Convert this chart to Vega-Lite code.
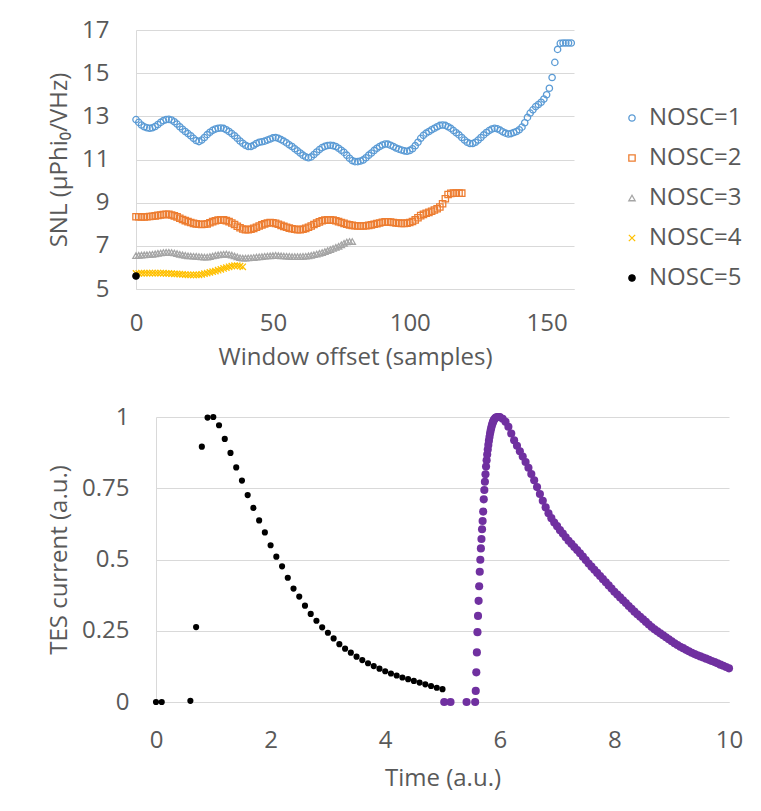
{
  "$schema": "https://vega.github.io/schema/vega-lite/v6.json",
  "background": "white",
  "padding": {"left": 46, "top": 18, "right": 0, "bottom": 12},
  "spacing": 36,
  "config": {
    "font": "Open Sans",
    "view": {"stroke": null},
    "axis": {
      "labelFont": "Open Sans", "titleFont": "Open Sans",
      "labelFontSize": 24, "titleFontSize": 24,
      "labelColor": "#595959", "titleColor": "#595959",
      "titleFontWeight": "normal", "ticks": false, "labelFlush": false,
      "domainColor": "#d9d9d9", "gridColor": "#d9d9d9", "gridWidth": 1
    }
  },
  "resolve": {"scale": {"x": "independent", "y": "independent"}},
  "vconcat": [
    {
      "width": 418,
      "height": 259,
      "data": {"values": [
        {"nosc":"NOSC=1","offset":0,"snl":12.85},{"nosc":"NOSC=1","offset":1,"snl":12.72},{"nosc":"NOSC=1","offset":2,"snl":12.6},{"nosc":"NOSC=1","offset":3,"snl":12.52},{"nosc":"NOSC=1","offset":4,"snl":12.47},{"nosc":"NOSC=1","offset":5,"snl":12.45},{"nosc":"NOSC=1","offset":6,"snl":12.47},{"nosc":"NOSC=1","offset":7,"snl":12.53},{"nosc":"NOSC=1","offset":8,"snl":12.62},{"nosc":"NOSC=1","offset":9,"snl":12.72},
        {"nosc":"NOSC=1","offset":10,"snl":12.8},{"nosc":"NOSC=1","offset":11,"snl":12.85},{"nosc":"NOSC=1","offset":12,"snl":12.86},{"nosc":"NOSC=1","offset":13,"snl":12.83},{"nosc":"NOSC=1","offset":14,"snl":12.75},{"nosc":"NOSC=1","offset":15,"snl":12.64},{"nosc":"NOSC=1","offset":16,"snl":12.52},{"nosc":"NOSC=1","offset":17,"snl":12.4},{"nosc":"NOSC=1","offset":18,"snl":12.3},{"nosc":"NOSC=1","offset":19,"snl":12.2},
        {"nosc":"NOSC=1","offset":20,"snl":12.1},{"nosc":"NOSC=1","offset":21,"snl":11.98},{"nosc":"NOSC=1","offset":22,"snl":11.88},{"nosc":"NOSC=1","offset":23,"snl":11.83},{"nosc":"NOSC=1","offset":24,"snl":11.9},{"nosc":"NOSC=1","offset":25,"snl":12.02},{"nosc":"NOSC=1","offset":26,"snl":12.15},{"nosc":"NOSC=1","offset":27,"snl":12.26},{"nosc":"NOSC=1","offset":28,"snl":12.35},{"nosc":"NOSC=1","offset":29,"snl":12.41},
        {"nosc":"NOSC=1","offset":30,"snl":12.45},{"nosc":"NOSC=1","offset":31,"snl":12.46},{"nosc":"NOSC=1","offset":32,"snl":12.44},{"nosc":"NOSC=1","offset":33,"snl":12.38},{"nosc":"NOSC=1","offset":34,"snl":12.3},{"nosc":"NOSC=1","offset":35,"snl":12.2},{"nosc":"NOSC=1","offset":36,"snl":12.1},{"nosc":"NOSC=1","offset":37,"snl":11.98},{"nosc":"NOSC=1","offset":38,"snl":11.86},{"nosc":"NOSC=1","offset":39,"snl":11.75},
        {"nosc":"NOSC=1","offset":40,"snl":11.66},{"nosc":"NOSC=1","offset":41,"snl":11.6},{"nosc":"NOSC=1","offset":42,"snl":11.6},{"nosc":"NOSC=1","offset":43,"snl":11.66},{"nosc":"NOSC=1","offset":44,"snl":11.74},{"nosc":"NOSC=1","offset":45,"snl":11.8},{"nosc":"NOSC=1","offset":46,"snl":11.82},{"nosc":"NOSC=1","offset":47,"snl":11.85},{"nosc":"NOSC=1","offset":48,"snl":11.9},{"nosc":"NOSC=1","offset":49,"snl":11.95},
        {"nosc":"NOSC=1","offset":50,"snl":12.0},{"nosc":"NOSC=1","offset":51,"snl":12.02},{"nosc":"NOSC=1","offset":52,"snl":11.98},{"nosc":"NOSC=1","offset":53,"snl":11.92},{"nosc":"NOSC=1","offset":54,"snl":11.85},{"nosc":"NOSC=1","offset":55,"snl":11.77},{"nosc":"NOSC=1","offset":56,"snl":11.68},{"nosc":"NOSC=1","offset":57,"snl":11.6},{"nosc":"NOSC=1","offset":58,"snl":11.5},{"nosc":"NOSC=1","offset":59,"snl":11.4},
        {"nosc":"NOSC=1","offset":60,"snl":11.3},{"nosc":"NOSC=1","offset":61,"snl":11.2},{"nosc":"NOSC=1","offset":62,"snl":11.12},{"nosc":"NOSC=1","offset":63,"snl":11.08},{"nosc":"NOSC=1","offset":64,"snl":11.12},{"nosc":"NOSC=1","offset":65,"snl":11.23},{"nosc":"NOSC=1","offset":66,"snl":11.35},{"nosc":"NOSC=1","offset":67,"snl":11.46},{"nosc":"NOSC=1","offset":68,"snl":11.55},{"nosc":"NOSC=1","offset":69,"snl":11.61},
        {"nosc":"NOSC=1","offset":70,"snl":11.65},{"nosc":"NOSC=1","offset":71,"snl":11.66},{"nosc":"NOSC=1","offset":72,"snl":11.64},{"nosc":"NOSC=1","offset":73,"snl":11.6},{"nosc":"NOSC=1","offset":74,"snl":11.52},{"nosc":"NOSC=1","offset":75,"snl":11.43},{"nosc":"NOSC=1","offset":76,"snl":11.33},{"nosc":"NOSC=1","offset":77,"snl":11.2},{"nosc":"NOSC=1","offset":78,"snl":11.06},{"nosc":"NOSC=1","offset":79,"snl":10.95},
        {"nosc":"NOSC=1","offset":80,"snl":10.9},{"nosc":"NOSC=1","offset":81,"snl":10.9},{"nosc":"NOSC=1","offset":82,"snl":10.93},{"nosc":"NOSC=1","offset":83,"snl":10.98},{"nosc":"NOSC=1","offset":84,"snl":11.08},{"nosc":"NOSC=1","offset":85,"snl":11.2},{"nosc":"NOSC=1","offset":86,"snl":11.3},{"nosc":"NOSC=1","offset":87,"snl":11.42},{"nosc":"NOSC=1","offset":88,"snl":11.52},{"nosc":"NOSC=1","offset":89,"snl":11.6},
        {"nosc":"NOSC=1","offset":90,"snl":11.67},{"nosc":"NOSC=1","offset":91,"snl":11.72},{"nosc":"NOSC=1","offset":92,"snl":11.71},{"nosc":"NOSC=1","offset":93,"snl":11.66},{"nosc":"NOSC=1","offset":94,"snl":11.6},{"nosc":"NOSC=1","offset":95,"snl":11.53},{"nosc":"NOSC=1","offset":96,"snl":11.48},{"nosc":"NOSC=1","offset":97,"snl":11.44},{"nosc":"NOSC=1","offset":98,"snl":11.4},{"nosc":"NOSC=1","offset":99,"snl":11.38},
        {"nosc":"NOSC=1","offset":100,"snl":11.42},{"nosc":"NOSC=1","offset":101,"snl":11.5},{"nosc":"NOSC=1","offset":102,"snl":11.64},{"nosc":"NOSC=1","offset":103,"snl":11.8},{"nosc":"NOSC=1","offset":104,"snl":11.98},{"nosc":"NOSC=1","offset":105,"snl":12.12},{"nosc":"NOSC=1","offset":106,"snl":12.22},{"nosc":"NOSC=1","offset":107,"snl":12.3},{"nosc":"NOSC=1","offset":108,"snl":12.38},{"nosc":"NOSC=1","offset":109,"snl":12.45},
        {"nosc":"NOSC=1","offset":110,"snl":12.52},{"nosc":"NOSC=1","offset":111,"snl":12.58},{"nosc":"NOSC=1","offset":112,"snl":12.6},{"nosc":"NOSC=1","offset":113,"snl":12.58},{"nosc":"NOSC=1","offset":114,"snl":12.52},{"nosc":"NOSC=1","offset":115,"snl":12.44},{"nosc":"NOSC=1","offset":116,"snl":12.34},{"nosc":"NOSC=1","offset":117,"snl":12.24},{"nosc":"NOSC=1","offset":118,"snl":12.14},{"nosc":"NOSC=1","offset":119,"snl":12.02},
        {"nosc":"NOSC=1","offset":120,"snl":11.9},{"nosc":"NOSC=1","offset":121,"snl":11.8},{"nosc":"NOSC=1","offset":122,"snl":11.74},{"nosc":"NOSC=1","offset":123,"snl":11.74},{"nosc":"NOSC=1","offset":124,"snl":11.8},{"nosc":"NOSC=1","offset":125,"snl":11.9},{"nosc":"NOSC=1","offset":126,"snl":12.02},{"nosc":"NOSC=1","offset":127,"snl":12.14},{"nosc":"NOSC=1","offset":128,"snl":12.25},{"nosc":"NOSC=1","offset":129,"snl":12.34},
        {"nosc":"NOSC=1","offset":130,"snl":12.41},{"nosc":"NOSC=1","offset":131,"snl":12.45},{"nosc":"NOSC=1","offset":132,"snl":12.42},{"nosc":"NOSC=1","offset":133,"snl":12.36},{"nosc":"NOSC=1","offset":134,"snl":12.28},{"nosc":"NOSC=1","offset":135,"snl":12.22},{"nosc":"NOSC=1","offset":136,"snl":12.18},{"nosc":"NOSC=1","offset":137,"snl":12.2},{"nosc":"NOSC=1","offset":138,"snl":12.25},{"nosc":"NOSC=1","offset":139,"snl":12.3},
        {"nosc":"NOSC=1","offset":140,"snl":12.38},{"nosc":"NOSC=1","offset":141,"snl":12.5},{"nosc":"NOSC=1","offset":142,"snl":12.7},{"nosc":"NOSC=1","offset":143,"snl":12.95},{"nosc":"NOSC=1","offset":144,"snl":13.15},{"nosc":"NOSC=1","offset":145,"snl":13.3},{"nosc":"NOSC=1","offset":146,"snl":13.45},{"nosc":"NOSC=1","offset":147,"snl":13.55},{"nosc":"NOSC=1","offset":148,"snl":13.65},{"nosc":"NOSC=1","offset":149,"snl":13.8},
        {"nosc":"NOSC=1","offset":150,"snl":14.0},{"nosc":"NOSC=1","offset":151,"snl":14.3},{"nosc":"NOSC=1","offset":152,"snl":14.8},{"nosc":"NOSC=1","offset":153,"snl":15.5},{"nosc":"NOSC=1","offset":154,"snl":16.1},{"nosc":"NOSC=1","offset":155,"snl":16.38},{"nosc":"NOSC=1","offset":156,"snl":16.4},{"nosc":"NOSC=1","offset":157,"snl":16.4},{"nosc":"NOSC=1","offset":158,"snl":16.4},{"nosc":"NOSC=1","offset":159,"snl":16.4},

        {"nosc":"NOSC=2","offset":0,"snl":8.35},{"nosc":"NOSC=2","offset":1,"snl":8.35},{"nosc":"NOSC=2","offset":2,"snl":8.34},{"nosc":"NOSC=2","offset":3,"snl":8.34},{"nosc":"NOSC=2","offset":4,"snl":8.35},{"nosc":"NOSC=2","offset":5,"snl":8.36},{"nosc":"NOSC=2","offset":6,"snl":8.37},{"nosc":"NOSC=2","offset":7,"snl":8.39},{"nosc":"NOSC=2","offset":8,"snl":8.41},{"nosc":"NOSC=2","offset":9,"snl":8.43},
        {"nosc":"NOSC=2","offset":10,"snl":8.45},{"nosc":"NOSC=2","offset":11,"snl":8.46},{"nosc":"NOSC=2","offset":12,"snl":8.46},{"nosc":"NOSC=2","offset":13,"snl":8.43},{"nosc":"NOSC=2","offset":14,"snl":8.39},{"nosc":"NOSC=2","offset":15,"snl":8.34},{"nosc":"NOSC=2","offset":16,"snl":8.28},{"nosc":"NOSC=2","offset":17,"snl":8.22},{"nosc":"NOSC=2","offset":18,"snl":8.17},{"nosc":"NOSC=2","offset":19,"snl":8.12},
        {"nosc":"NOSC=2","offset":20,"snl":8.08},{"nosc":"NOSC=2","offset":21,"snl":8.04},{"nosc":"NOSC=2","offset":22,"snl":8.02},{"nosc":"NOSC=2","offset":23,"snl":8.0},{"nosc":"NOSC=2","offset":24,"snl":7.99},{"nosc":"NOSC=2","offset":25,"snl":8.0},{"nosc":"NOSC=2","offset":26,"snl":8.02},{"nosc":"NOSC=2","offset":27,"snl":8.07},{"nosc":"NOSC=2","offset":28,"snl":8.12},{"nosc":"NOSC=2","offset":29,"snl":8.16},
        {"nosc":"NOSC=2","offset":30,"snl":8.19},{"nosc":"NOSC=2","offset":31,"snl":8.2},{"nosc":"NOSC=2","offset":32,"snl":8.2},{"nosc":"NOSC=2","offset":33,"snl":8.17},{"nosc":"NOSC=2","offset":34,"snl":8.12},{"nosc":"NOSC=2","offset":35,"snl":8.06},{"nosc":"NOSC=2","offset":36,"snl":7.99},{"nosc":"NOSC=2","offset":37,"snl":7.91},{"nosc":"NOSC=2","offset":38,"snl":7.84},{"nosc":"NOSC=2","offset":39,"snl":7.78},
        {"nosc":"NOSC=2","offset":40,"snl":7.75},{"nosc":"NOSC=2","offset":41,"snl":7.75},{"nosc":"NOSC=2","offset":42,"snl":7.77},{"nosc":"NOSC=2","offset":43,"snl":7.81},{"nosc":"NOSC=2","offset":44,"snl":7.86},{"nosc":"NOSC=2","offset":45,"snl":7.92},{"nosc":"NOSC=2","offset":46,"snl":7.97},{"nosc":"NOSC=2","offset":47,"snl":8.02},{"nosc":"NOSC=2","offset":48,"snl":8.06},{"nosc":"NOSC=2","offset":49,"snl":8.08},
        {"nosc":"NOSC=2","offset":50,"snl":8.07},{"nosc":"NOSC=2","offset":51,"snl":8.04},{"nosc":"NOSC=2","offset":52,"snl":8.0},{"nosc":"NOSC=2","offset":53,"snl":7.95},{"nosc":"NOSC=2","offset":54,"snl":7.9},{"nosc":"NOSC=2","offset":55,"snl":7.86},{"nosc":"NOSC=2","offset":56,"snl":7.82},{"nosc":"NOSC=2","offset":57,"snl":7.79},{"nosc":"NOSC=2","offset":58,"snl":7.77},{"nosc":"NOSC=2","offset":59,"snl":7.75},
        {"nosc":"NOSC=2","offset":60,"snl":7.75},{"nosc":"NOSC=2","offset":61,"snl":7.77},{"nosc":"NOSC=2","offset":62,"snl":7.81},{"nosc":"NOSC=2","offset":63,"snl":7.86},{"nosc":"NOSC=2","offset":64,"snl":7.92},{"nosc":"NOSC=2","offset":65,"snl":7.99},{"nosc":"NOSC=2","offset":66,"snl":8.05},{"nosc":"NOSC=2","offset":67,"snl":8.11},{"nosc":"NOSC=2","offset":68,"snl":8.16},{"nosc":"NOSC=2","offset":69,"snl":8.19},
        {"nosc":"NOSC=2","offset":70,"snl":8.2},{"nosc":"NOSC=2","offset":71,"snl":8.2},{"nosc":"NOSC=2","offset":72,"snl":8.19},{"nosc":"NOSC=2","offset":73,"snl":8.16},{"nosc":"NOSC=2","offset":74,"snl":8.12},{"nosc":"NOSC=2","offset":75,"snl":8.08},{"nosc":"NOSC=2","offset":76,"snl":8.04},{"nosc":"NOSC=2","offset":77,"snl":8.0},{"nosc":"NOSC=2","offset":78,"snl":7.97},{"nosc":"NOSC=2","offset":79,"snl":7.95},
        {"nosc":"NOSC=2","offset":80,"snl":7.93},{"nosc":"NOSC=2","offset":81,"snl":7.92},{"nosc":"NOSC=2","offset":82,"snl":7.92},{"nosc":"NOSC=2","offset":83,"snl":7.92},{"nosc":"NOSC=2","offset":84,"snl":7.93},{"nosc":"NOSC=2","offset":85,"snl":7.95},{"nosc":"NOSC=2","offset":86,"snl":7.97},{"nosc":"NOSC=2","offset":87,"snl":8.0},{"nosc":"NOSC=2","offset":88,"snl":8.03},{"nosc":"NOSC=2","offset":89,"snl":8.06},
        {"nosc":"NOSC=2","offset":90,"snl":8.09},{"nosc":"NOSC=2","offset":91,"snl":8.11},{"nosc":"NOSC=2","offset":92,"snl":8.11},{"nosc":"NOSC=2","offset":93,"snl":8.1},{"nosc":"NOSC=2","offset":94,"snl":8.08},{"nosc":"NOSC=2","offset":95,"snl":8.06},{"nosc":"NOSC=2","offset":96,"snl":8.05},{"nosc":"NOSC=2","offset":97,"snl":8.04},{"nosc":"NOSC=2","offset":98,"snl":8.04},{"nosc":"NOSC=2","offset":99,"snl":8.05},
        {"nosc":"NOSC=2","offset":100,"snl":8.08},{"nosc":"NOSC=2","offset":101,"snl":8.13},{"nosc":"NOSC=2","offset":102,"snl":8.2},{"nosc":"NOSC=2","offset":103,"snl":8.3},{"nosc":"NOSC=2","offset":104,"snl":8.4},{"nosc":"NOSC=2","offset":105,"snl":8.46},{"nosc":"NOSC=2","offset":106,"snl":8.51},{"nosc":"NOSC=2","offset":107,"snl":8.55},{"nosc":"NOSC=2","offset":108,"snl":8.6},{"nosc":"NOSC=2","offset":109,"snl":8.66},
        {"nosc":"NOSC=2","offset":110,"snl":8.72},{"nosc":"NOSC=2","offset":111,"snl":8.8},{"nosc":"NOSC=2","offset":112,"snl":8.95},{"nosc":"NOSC=2","offset":113,"snl":9.18},{"nosc":"NOSC=2","offset":114,"snl":9.38},{"nosc":"NOSC=2","offset":115,"snl":9.43},{"nosc":"NOSC=2","offset":116,"snl":9.44},{"nosc":"NOSC=2","offset":117,"snl":9.44},{"nosc":"NOSC=2","offset":118,"snl":9.44},{"nosc":"NOSC=2","offset":119,"snl":9.44},

        {"nosc":"NOSC=3","offset":0,"snl":6.55},{"nosc":"NOSC=3","offset":1,"snl":6.56},{"nosc":"NOSC=3","offset":2,"snl":6.57},{"nosc":"NOSC=3","offset":3,"snl":6.58},{"nosc":"NOSC=3","offset":4,"snl":6.59},{"nosc":"NOSC=3","offset":5,"snl":6.6},{"nosc":"NOSC=3","offset":6,"snl":6.61},{"nosc":"NOSC=3","offset":7,"snl":6.63},{"nosc":"NOSC=3","offset":8,"snl":6.65},{"nosc":"NOSC=3","offset":9,"snl":6.67},
        {"nosc":"NOSC=3","offset":10,"snl":6.69},{"nosc":"NOSC=3","offset":11,"snl":6.7},{"nosc":"NOSC=3","offset":12,"snl":6.7},{"nosc":"NOSC=3","offset":13,"snl":6.69},{"nosc":"NOSC=3","offset":14,"snl":6.67},{"nosc":"NOSC=3","offset":15,"snl":6.64},{"nosc":"NOSC=3","offset":16,"snl":6.61},{"nosc":"NOSC=3","offset":17,"snl":6.58},{"nosc":"NOSC=3","offset":18,"snl":6.56},{"nosc":"NOSC=3","offset":19,"snl":6.54},
        {"nosc":"NOSC=3","offset":20,"snl":6.53},{"nosc":"NOSC=3","offset":21,"snl":6.52},{"nosc":"NOSC=3","offset":22,"snl":6.51},{"nosc":"NOSC=3","offset":23,"snl":6.5},{"nosc":"NOSC=3","offset":24,"snl":6.49},{"nosc":"NOSC=3","offset":25,"snl":6.48},{"nosc":"NOSC=3","offset":26,"snl":6.48},{"nosc":"NOSC=3","offset":27,"snl":6.5},{"nosc":"NOSC=3","offset":28,"snl":6.53},{"nosc":"NOSC=3","offset":29,"snl":6.56},
        {"nosc":"NOSC=3","offset":30,"snl":6.58},{"nosc":"NOSC=3","offset":31,"snl":6.6},{"nosc":"NOSC=3","offset":32,"snl":6.61},{"nosc":"NOSC=3","offset":33,"snl":6.62},{"nosc":"NOSC=3","offset":34,"snl":6.6},{"nosc":"NOSC=3","offset":35,"snl":6.57},{"nosc":"NOSC=3","offset":36,"snl":6.53},{"nosc":"NOSC=3","offset":37,"snl":6.49},{"nosc":"NOSC=3","offset":38,"snl":6.45},{"nosc":"NOSC=3","offset":39,"snl":6.43},
        {"nosc":"NOSC=3","offset":40,"snl":6.43},{"nosc":"NOSC=3","offset":41,"snl":6.44},{"nosc":"NOSC=3","offset":42,"snl":6.45},{"nosc":"NOSC=3","offset":43,"snl":6.46},{"nosc":"NOSC=3","offset":44,"snl":6.48},{"nosc":"NOSC=3","offset":45,"snl":6.49},{"nosc":"NOSC=3","offset":46,"snl":6.5},{"nosc":"NOSC=3","offset":47,"snl":6.52},{"nosc":"NOSC=3","offset":48,"snl":6.53},{"nosc":"NOSC=3","offset":49,"snl":6.54},
        {"nosc":"NOSC=3","offset":50,"snl":6.55},{"nosc":"NOSC=3","offset":51,"snl":6.56},{"nosc":"NOSC=3","offset":52,"snl":6.55},{"nosc":"NOSC=3","offset":53,"snl":6.54},{"nosc":"NOSC=3","offset":54,"snl":6.53},{"nosc":"NOSC=3","offset":55,"snl":6.52},{"nosc":"NOSC=3","offset":56,"snl":6.51},{"nosc":"NOSC=3","offset":57,"snl":6.5},{"nosc":"NOSC=3","offset":58,"snl":6.5},{"nosc":"NOSC=3","offset":59,"snl":6.5},
        {"nosc":"NOSC=3","offset":60,"snl":6.5},{"nosc":"NOSC=3","offset":61,"snl":6.51},{"nosc":"NOSC=3","offset":62,"snl":6.52},{"nosc":"NOSC=3","offset":63,"snl":6.54},{"nosc":"NOSC=3","offset":64,"snl":6.56},{"nosc":"NOSC=3","offset":65,"snl":6.59},{"nosc":"NOSC=3","offset":66,"snl":6.62},{"nosc":"NOSC=3","offset":67,"snl":6.65},{"nosc":"NOSC=3","offset":68,"snl":6.69},{"nosc":"NOSC=3","offset":69,"snl":6.73},
        {"nosc":"NOSC=3","offset":70,"snl":6.78},{"nosc":"NOSC=3","offset":71,"snl":6.83},{"nosc":"NOSC=3","offset":72,"snl":6.88},{"nosc":"NOSC=3","offset":73,"snl":6.93},{"nosc":"NOSC=3","offset":74,"snl":6.98},{"nosc":"NOSC=3","offset":75,"snl":7.05},{"nosc":"NOSC=3","offset":76,"snl":7.12},{"nosc":"NOSC=3","offset":77,"snl":7.18},{"nosc":"NOSC=3","offset":78,"snl":7.2},{"nosc":"NOSC=3","offset":79,"snl":7.2},

        {"nosc":"NOSC=4","offset":0,"snl":5.72},{"nosc":"NOSC=4","offset":1,"snl":5.72},{"nosc":"NOSC=4","offset":2,"snl":5.73},{"nosc":"NOSC=4","offset":3,"snl":5.73},{"nosc":"NOSC=4","offset":4,"snl":5.73},{"nosc":"NOSC=4","offset":5,"snl":5.73},{"nosc":"NOSC=4","offset":6,"snl":5.74},{"nosc":"NOSC=4","offset":7,"snl":5.74},{"nosc":"NOSC=4","offset":8,"snl":5.74},{"nosc":"NOSC=4","offset":9,"snl":5.74},
        {"nosc":"NOSC=4","offset":10,"snl":5.73},{"nosc":"NOSC=4","offset":11,"snl":5.72},{"nosc":"NOSC=4","offset":12,"snl":5.72},{"nosc":"NOSC=4","offset":13,"snl":5.71},{"nosc":"NOSC=4","offset":14,"snl":5.7},{"nosc":"NOSC=4","offset":15,"snl":5.7},{"nosc":"NOSC=4","offset":16,"snl":5.69},{"nosc":"NOSC=4","offset":17,"snl":5.68},{"nosc":"NOSC=4","offset":18,"snl":5.67},{"nosc":"NOSC=4","offset":19,"snl":5.66},
        {"nosc":"NOSC=4","offset":20,"snl":5.65},{"nosc":"NOSC=4","offset":21,"snl":5.65},{"nosc":"NOSC=4","offset":22,"snl":5.65},{"nosc":"NOSC=4","offset":23,"snl":5.66},{"nosc":"NOSC=4","offset":24,"snl":5.68},{"nosc":"NOSC=4","offset":25,"snl":5.71},{"nosc":"NOSC=4","offset":26,"snl":5.74},{"nosc":"NOSC=4","offset":27,"snl":5.77},{"nosc":"NOSC=4","offset":28,"snl":5.8},{"nosc":"NOSC=4","offset":29,"snl":5.83},
        {"nosc":"NOSC=4","offset":30,"snl":5.87},{"nosc":"NOSC=4","offset":31,"snl":5.91},{"nosc":"NOSC=4","offset":32,"snl":5.95},{"nosc":"NOSC=4","offset":33,"snl":5.99},{"nosc":"NOSC=4","offset":34,"snl":6.03},{"nosc":"NOSC=4","offset":35,"snl":6.06},{"nosc":"NOSC=4","offset":36,"snl":6.08},{"nosc":"NOSC=4","offset":37,"snl":6.08},{"nosc":"NOSC=4","offset":38,"snl":6.06},{"nosc":"NOSC=4","offset":39,"snl":6.03},

        {"nosc":"NOSC=5","offset":0,"snl":5.6}
      ]},
      "mark": {"type": "point", "size": 40, "strokeWidth": 1.3, "opacity": 1},
      "encoding": {
        "x": {
          "field": "offset", "type": "quantitative",
          "scale": {"domain": [0, 160], "nice": false, "rangeMin": -20},
          "axis": {"values": [0, 50, 100, 150], "title": "Window offset (samples)", "grid": false,
                   "labelPadding": 22, "titlePadding": 10}
        },
        "y": {
          "field": "snl", "type": "quantitative",
          "scale": {"domain": [5, 17], "nice": false, "zero": false},
          "axis": {"values": [5, 7, 9, 11, 13, 15, 17], "title": "SNL (µPhi₀/VHz)", "grid": true, "offset": 20,
                   "labelPadding": 27, "minExtent": 55, "maxExtent": 55, "titlePadding": 10}
        },
        "shape": {
          "field": "nosc", "type": "nominal",
          "scale": {"domain": ["NOSC=1", "NOSC=2", "NOSC=3", "NOSC=4", "NOSC=5"],
                    "range": ["circle", "square", "triangle-up", "M-1,-1L1,1M-1,1L1,-1", "circle"]},
          "legend": {"title": null, "orient": "none", "legendX": 464, "legendY": 76, "padding": 0,
                     "labelFont": "Open Sans", "labelFontSize": 24, "labelColor": "#595959",
                     "symbolSize": 40, "symbolStrokeWidth": 1.3, "rowPadding": 16, "labelOffset": 5}
        },
        "stroke": {
          "field": "nosc", "type": "nominal",
          "scale": {"domain": ["NOSC=1", "NOSC=2", "NOSC=3", "NOSC=4", "NOSC=5"],
                    "range": ["#5b9bd5", "#ed7d31", "#a5a5a5", "#ffc000", "#000000"]}
        },
        "fill": {
          "field": "nosc", "type": "nominal",
          "scale": {"domain": ["NOSC=1", "NOSC=2", "NOSC=3", "NOSC=4", "NOSC=5"],
                    "range": ["transparent", "transparent", "transparent", "transparent", "#000000"]}
        }
      }
    },
    {
      "width": 573,
      "height": 285,
      "data": {"values": [
        {"trace":"first","time":0,"current":0},{"trace":"first","time":0.1,"current":0},{"trace":"first","time":0.6,"current":0.004},{"trace":"first","time":0.7,"current":0.263},{"trace":"first","time":0.8,"current":0.896},{"trace":"first","time":0.9,"current":0.998},{"trace":"first","time":1.0,"current":1.0},
        {"trace":"first","time":1.1,"current":0.971},{"trace":"first","time":1.2,"current":0.923},{"trace":"first","time":1.3,"current":0.874},{"trace":"first","time":1.4,"current":0.823},{"trace":"first","time":1.5,"current":0.777},{"trace":"first","time":1.6,"current":0.726},{"trace":"first","time":1.7,"current":0.681},{"trace":"first","time":1.8,"current":0.637},{"trace":"first","time":1.9,"current":0.595},
        {"trace":"first","time":2.0,"current":0.55},{"trace":"first","time":2.1,"current":0.51},{"trace":"first","time":2.2,"current":0.476},{"trace":"first","time":2.3,"current":0.436},{"trace":"first","time":2.4,"current":0.398},{"trace":"first","time":2.5,"current":0.37},{"trace":"first","time":2.6,"current":0.338},{"trace":"first","time":2.7,"current":0.309},{"trace":"first","time":2.8,"current":0.285},{"trace":"first","time":2.9,"current":0.262},
        {"trace":"first","time":3.0,"current":0.243},{"trace":"first","time":3.1,"current":0.223},{"trace":"first","time":3.2,"current":0.203},{"trace":"first","time":3.3,"current":0.187},{"trace":"first","time":3.4,"current":0.173},{"trace":"first","time":3.5,"current":0.159},{"trace":"first","time":3.6,"current":0.147},{"trace":"first","time":3.7,"current":0.136},{"trace":"first","time":3.8,"current":0.126},{"trace":"first","time":3.9,"current":0.117},
        {"trace":"first","time":4.0,"current":0.108},{"trace":"first","time":4.1,"current":0.1},{"trace":"first","time":4.2,"current":0.093},{"trace":"first","time":4.3,"current":0.086},{"trace":"first","time":4.4,"current":0.08},{"trace":"first","time":4.5,"current":0.074},{"trace":"first","time":4.6,"current":0.068},{"trace":"first","time":4.7,"current":0.062},{"trace":"first","time":4.8,"current":0.056},{"trace":"first","time":4.9,"current":0.05},{"trace":"first","time":5.0,"current":0.045},

        {"trace":"second","time":5.03,"current":0},{"trace":"second","time":5.14,"current":0},{"trace":"second","time":5.42,"current":0},{"trace":"second","time":5.57,"current":0},
        {"trace":"second","time":5.58,"current":0.039},{"trace":"second","time":5.59,"current":0.104},{"trace":"second","time":5.6,"current":0.174},{"trace":"second","time":5.61,"current":0.245},{"trace":"second","time":5.62,"current":0.302},{"trace":"second","time":5.63,"current":0.355},{"trace":"second","time":5.64,"current":0.406},{"trace":"second","time":5.65,"current":0.457},{"trace":"second","time":5.66,"current":0.499},{"trace":"second","time":5.67,"current":0.539},
        {"trace":"second","time":5.68,"current":0.572},{"trace":"second","time":5.69,"current":0.606},{"trace":"second","time":5.7,"current":0.635},{"trace":"second","time":5.71,"current":0.668},{"trace":"second","time":5.72,"current":0.711},{"trace":"second","time":5.73,"current":0.744},{"trace":"second","time":5.74,"current":0.773},{"trace":"second","time":5.75,"current":0.799},{"trace":"second","time":5.76,"current":0.826},{"trace":"second","time":5.77,"current":0.848},
        {"trace":"second","time":5.78,"current":0.868},{"trace":"second","time":5.79,"current":0.886},{"trace":"second","time":5.8,"current":0.902},{"trace":"second","time":5.81,"current":0.917},{"trace":"second","time":5.82,"current":0.93},{"trace":"second","time":5.83,"current":0.942},{"trace":"second","time":5.84,"current":0.952},{"trace":"second","time":5.85,"current":0.961},{"trace":"second","time":5.86,"current":0.969},{"trace":"second","time":5.87,"current":0.976},
        {"trace":"second","time":5.88,"current":0.982},{"trace":"second","time":5.89,"current":0.987},{"trace":"second","time":5.9,"current":0.991},{"trace":"second","time":5.92,"current":0.996},{"trace":"second","time":5.94,"current":0.999},{"trace":"second","time":5.96,"current":1.0},{"trace":"second","time":5.98,"current":1.0},
        {"trace":"second","time":6.0,"current":1.0},{"trace":"second","time":6.05,"current":0.994},{"trace":"second","time":6.1,"current":0.983},{"trace":"second","time":6.15,"current":0.966},{"trace":"second","time":6.2,"current":0.942},{"trace":"second","time":6.25,"current":0.918},{"trace":"second","time":6.3,"current":0.899},{"trace":"second","time":6.35,"current":0.88},{"trace":"second","time":6.4,"current":0.861},{"trace":"second","time":6.45,"current":0.842},
        {"trace":"second","time":6.5,"current":0.822},{"trace":"second","time":6.55,"current":0.8},{"trace":"second","time":6.6,"current":0.778},{"trace":"second","time":6.65,"current":0.754},{"trace":"second","time":6.7,"current":0.73},{"trace":"second","time":6.75,"current":0.706},{"trace":"second","time":6.8,"current":0.683},{"trace":"second","time":6.85,"current":0.662},{"trace":"second","time":6.9,"current":0.645},{"trace":"second","time":6.95,"current":0.63},
        {"trace":"second","time":7.0,"current":0.617},{"trace":"second","time":7.05,"current":0.603},{"trace":"second","time":7.1,"current":0.591},{"trace":"second","time":7.15,"current":0.578},{"trace":"second","time":7.2,"current":0.566},{"trace":"second","time":7.25,"current":0.555},{"trace":"second","time":7.3,"current":0.544},{"trace":"second","time":7.35,"current":0.533},{"trace":"second","time":7.4,"current":0.522},{"trace":"second","time":7.45,"current":0.51},
        {"trace":"second","time":7.5,"current":0.498},{"trace":"second","time":7.55,"current":0.486},{"trace":"second","time":7.6,"current":0.475},{"trace":"second","time":7.65,"current":0.464},{"trace":"second","time":7.7,"current":0.453},{"trace":"second","time":7.75,"current":0.442},{"trace":"second","time":7.8,"current":0.431},{"trace":"second","time":7.85,"current":0.42},{"trace":"second","time":7.9,"current":0.409},{"trace":"second","time":7.95,"current":0.398},
        {"trace":"second","time":8.0,"current":0.387},{"trace":"second","time":8.05,"current":0.377},{"trace":"second","time":8.1,"current":0.367},{"trace":"second","time":8.15,"current":0.357},{"trace":"second","time":8.2,"current":0.347},{"trace":"second","time":8.25,"current":0.337},{"trace":"second","time":8.3,"current":0.327},{"trace":"second","time":8.35,"current":0.317},{"trace":"second","time":8.4,"current":0.308},{"trace":"second","time":8.45,"current":0.299},
        {"trace":"second","time":8.5,"current":0.29},{"trace":"second","time":8.55,"current":0.281},{"trace":"second","time":8.6,"current":0.272},{"trace":"second","time":8.65,"current":0.263},{"trace":"second","time":8.7,"current":0.255},{"trace":"second","time":8.75,"current":0.248},{"trace":"second","time":8.8,"current":0.241},{"trace":"second","time":8.85,"current":0.234},{"trace":"second","time":8.9,"current":0.227},{"trace":"second","time":8.95,"current":0.22},
        {"trace":"second","time":9.0,"current":0.213},{"trace":"second","time":9.05,"current":0.206},{"trace":"second","time":9.1,"current":0.2},{"trace":"second","time":9.15,"current":0.194},{"trace":"second","time":9.2,"current":0.189},{"trace":"second","time":9.25,"current":0.183},{"trace":"second","time":9.3,"current":0.178},{"trace":"second","time":9.35,"current":0.173},{"trace":"second","time":9.4,"current":0.168},{"trace":"second","time":9.45,"current":0.164},
        {"trace":"second","time":9.5,"current":0.16},{"trace":"second","time":9.55,"current":0.156},{"trace":"second","time":9.6,"current":0.152},{"trace":"second","time":9.65,"current":0.148},{"trace":"second","time":9.7,"current":0.144},{"trace":"second","time":9.75,"current":0.14},{"trace":"second","time":9.8,"current":0.136},{"trace":"second","time":9.85,"current":0.131},{"trace":"second","time":9.9,"current":0.127},{"trace":"second","time":9.95,"current":0.123},
        {"trace":"second","time":10.0,"current":0.118}
      ]},
      "mark": {"type": "circle", "opacity": 1},
      "encoding": {
        "x": {
          "field": "time", "type": "quantitative",
          "scale": {"domain": [0, 10], "nice": false},
          "axis": {"values": [0, 2, 4, 6, 8, 10], "title": "Time (a.u.)", "grid": false,
                   "labelPadding": 26, "titlePadding": 14}
        },
        "y": {
          "field": "current", "type": "quantitative",
          "scale": {"domain": [0, 1], "nice": false},
          "axis": {"values": [0, 0.25, 0.5, 0.75, 1], "format": ".2~f", "title": "TES current (a.u.)", "grid": true,
                   "labelPadding": 27, "minExtent": 75, "maxExtent": 75, "titleX": -85}
        },
        "color": {
          "field": "trace", "type": "nominal",
          "scale": {"domain": ["first", "second"], "range": ["#000000", "#7030a0"]},
          "legend": null
        },
        "size": {
          "field": "trace", "type": "nominal",
          "scale": {"domain": ["first", "second"], "range": [38, 66]},
          "legend": null
        }
      }
    }
  ]
}
